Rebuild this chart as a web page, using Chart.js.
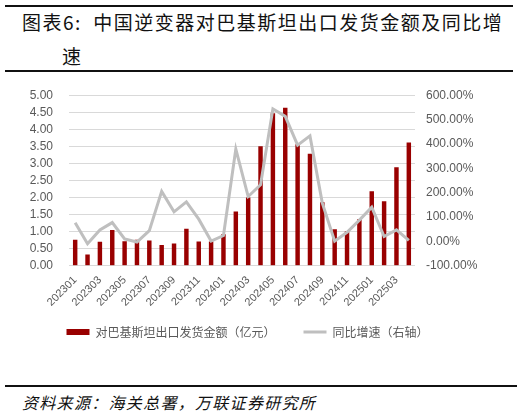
<!DOCTYPE html>
<html>
<head>
<meta charset="utf-8">
<script src="https://cdn.jsdelivr.net/npm/chart.js@4.4.1/dist/chart.umd.min.js"></script>
<style>
  html, body { margin: 0; padding: 0; background: #fff; width: 531px; height: 418px; overflow: hidden; }
  .rule { position: absolute; left: 5px; height: 2px; background: #111; }
  .title { position: absolute; left: 22px; font-family: "Noto Sans CJK SC", sans-serif; font-size: 19px; color: #111; white-space: nowrap; letter-spacing: 1.5px; line-height: 1; }
  .src { position: absolute; left: 22px; top: 394px; font-family: "Noto Sans CJK SC", sans-serif; font-style: italic; font-size: 16px; letter-spacing: 1.3px; color: #111; line-height: 1; white-space: nowrap; }
  #wrap { position: absolute; left: 0; top: 72px; width: 495px; height: 276px; }
</style>
</head>
<body>
<div class="rule" style="top:5px; width:508px;"></div>
<div class="title" style="top:12px;">图表6:&nbsp;&nbsp;中国逆变器对巴基斯坦出口发货金额及同比增</div>
<div class="title" style="top:46px; left:62px;">速</div>
<div class="rule" style="top:70px; width:508px;"></div>
<div id="wrap"><canvas id="c" width="495" height="276"></canvas></div>
<div class="rule" style="top:385px; width:512px;"></div>
<div class="src">资料来源：海关总署，万联证券研究所</div>
<script>
const categories = ["202301","202302","202303","202304","202305","202306","202307","202308","202309","202310","202311","202312",
  "202401","202402","202403","202404","202405","202406","202407","202408","202409","202410","202411","202412",
  "202501","202502","202503","202504"];
const exportValue = [0.76,0.33,0.70,1.05,0.72,0.76,0.74,0.61,0.65,1.08,0.71,0.71,
  0.92,1.59,2.00,3.50,4.47,4.63,3.56,3.28,1.86,1.07,1.01,1.36,
  2.18,1.89,2.89,3.61];
const yoyGrowth = [76,-10,47,77,10,-3,44,205,121,162,91,1,
  24,379,184,232,544,513,395,433,157,1,37,87,
  140,20,47,4];
const seriesNames = ["对巴基斯坦出口发货金额（亿元）", "同比增速（右轴）"];
const leftTicks = [0,0.5,1,1.5,2,2.5,3,3.5,4,4.5,5];
const rightTicks = [-100,0,100,200,300,400,500,600];

const barColor = "#990000";
const lineColor = "#BFBFBF";
const tickColor = "#595959";

new Chart(document.getElementById("c"), {
  data: {
    labels: categories,
    datasets: [
      { type: "bar", label: seriesNames[0], data: exportValue, backgroundColor: barColor, borderWidth: 0,
        yAxisID: "y", order: 1, barPercentage: 0.4, categoryPercentage: 0.9 },
      { type: "line", label: seriesNames[1], data: yoyGrowth, borderColor: lineColor, backgroundColor: lineColor,
        borderWidth: 3, pointRadius: 0, tension: 0, yAxisID: "y1", order: 0 }
    ]
  },
  options: {
    responsive: false,
    animation: false,
    layout: { padding: { top: 19.7, left: 0, right: 0, bottom: 0 } },
    plugins: {
      tooltip: { enabled: false },
      legend: {
        position: "bottom",
        labels: {
          usePointStyle: true, pointStyleWidth: 23, boxHeight: 6, padding: 28,
          color: tickColor,
          font: { family: "'Noto Sans CJK SC', sans-serif", size: 12 },
          generateLabels: () => [
            { text: seriesNames[0], fillStyle: barColor, strokeStyle: barColor, lineWidth: 0, pointStyle: "rect", datasetIndex: 0, hidden: false, fontColor: tickColor },
            { text: seriesNames[1], fillStyle: lineColor, strokeStyle: lineColor, lineWidth: 3, pointStyle: "line", datasetIndex: 1, hidden: false, fontColor: tickColor }
          ]
        }
      }
    },
    scales: {
      x: {
        offset: true,
        grid: { display: false, drawTicks: false },
        border: { display: false },
        afterFit: s => { s.height = 32.3; s._computeLabelArea = () => null; },
        ticks: {
          autoSkip: false, minRotation: 45, maxRotation: 45, padding: 8,
          color: tickColor, font: { family: "'Liberation Sans', sans-serif", size: 11 },
          callback: function(v, i) { return i % 2 === 0 ? categories[i] : null; }
        }
      },
      y: {
        position: "left", min: 0, max: 5,
        afterBuildTicks: s => { s.ticks = leftTicks.map(v => ({ value: v })); },
        afterFit: s => { s.width = 69; },
        grid: { color: "#D9D9D9", lineWidth: 1, drawTicks: false },
        border: { display: false },
        ticks: { autoSkip: false, padding: 16, color: tickColor, font: { family: "'Liberation Sans', sans-serif", size: 12 },
          callback: v => Number(v).toFixed(2) }
      },
      y1: {
        position: "right", min: -100, max: 600,
        afterBuildTicks: s => { s.ticks = rightTicks.map(v => ({ value: v })); },
        afterFit: s => { s.width = 80; },
        grid: { display: false, drawOnChartArea: false, drawTicks: false },
        border: { display: false },
        ticks: { autoSkip: false, padding: 11, color: tickColor, font: { family: "'Liberation Sans', sans-serif", size: 12 },
          callback: v => Number(v).toFixed(2) + "%" }
      }
    }
  }
});
</script>
</body>
</html>
